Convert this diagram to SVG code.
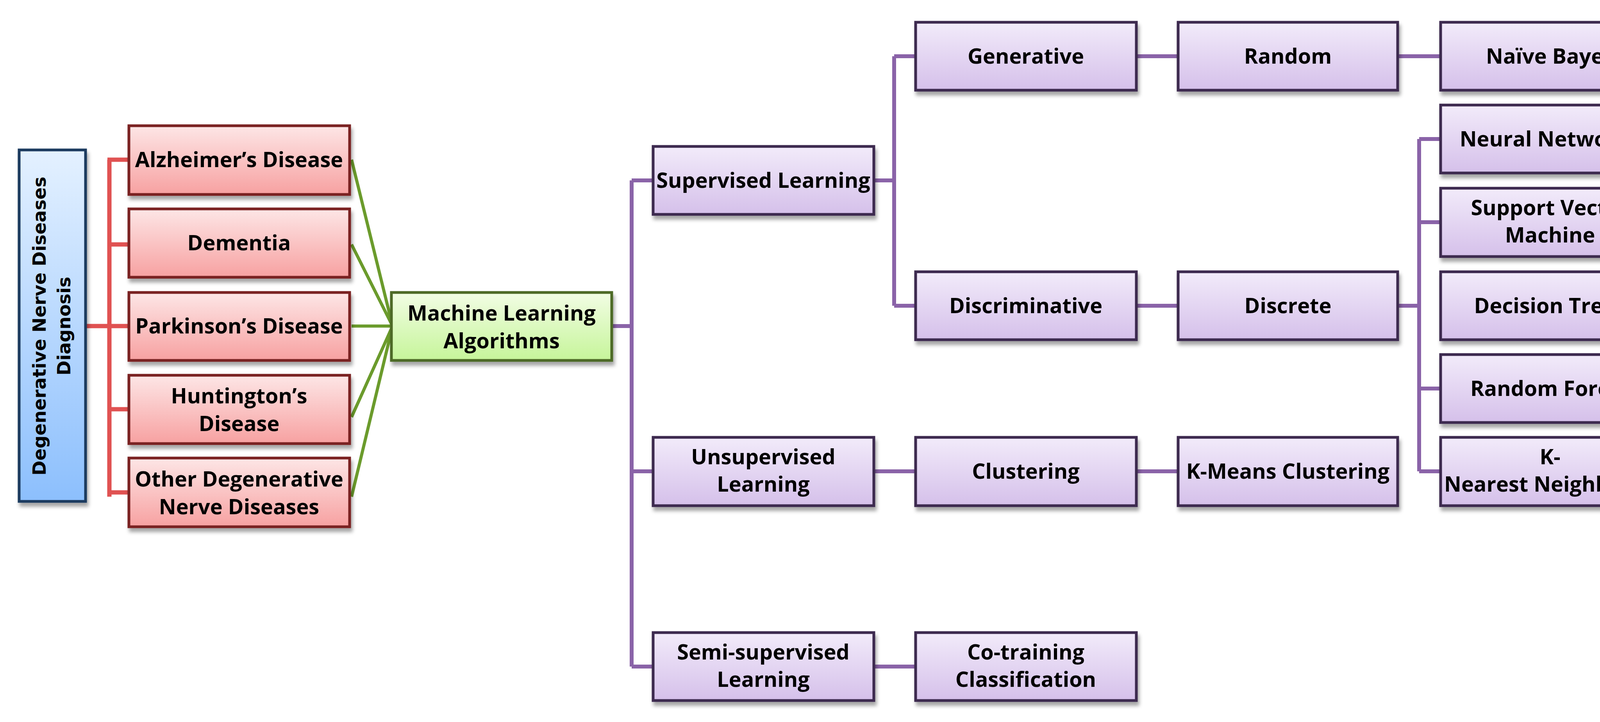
<svg xmlns="http://www.w3.org/2000/svg" width="4301" height="1849" viewBox="0 0 4301 1849">
<defs>
<linearGradient id="gr" x1="0" y1="0" x2="0" y2="1"><stop offset="0" stop-color="#fde6e6"/><stop offset="1" stop-color="#f7a1a1"/></linearGradient>
<linearGradient id="gg" x1="0" y1="0" x2="0" y2="1"><stop offset="0" stop-color="#f2fde4"/><stop offset="1" stop-color="#c6f59a"/></linearGradient>
<linearGradient id="gp" x1="0" y1="0" x2="0" y2="1"><stop offset="0" stop-color="#f2ebfa"/><stop offset="1" stop-color="#d5c0ea"/></linearGradient>
<linearGradient id="gb" x1="0" y1="0" x2="0" y2="1"><stop offset="0" stop-color="#e4f1ff"/><stop offset="1" stop-color="#8cbffd"/></linearGradient>
<filter id="sh" x="-10%" y="-10%" width="130%" height="140%"><feDropShadow dx="4" dy="10" stdDeviation="5" flood-color="#000" flood-opacity="0.35"/></filter>
</defs>
<style>
.r{fill:url(#gr);stroke:#7a2020;stroke-width:7;filter:url(#sh)}
.g{fill:url(#gg);stroke:#4d6a28;stroke-width:7;filter:url(#sh)}
.p{fill:url(#gp);stroke:#3d2b50;stroke-width:7;filter:url(#sh)}
.b{fill:url(#gb);stroke:#1d3a5e;stroke-width:7;filter:url(#sh)}
text{font-family:"Liberation Sans Narrow","Open Sans","Liberation Sans",sans-serif;font-weight:bold;font-size:54px;fill:#000;text-anchor:middle}
.v{font-family:"DejaVu Sans",sans-serif;font-size:46px}
.lr{stroke:#e05252;stroke-width:11;fill:none}
.lg{stroke:#6b9b2c;stroke-width:8;fill:none}
.lp{stroke:#8a63a8;stroke-width:10;fill:none}
</style>
<g id="connectors">
<path class="lr" d="M222 835H275M280 409V1272M275 409H330M275 626H330M275 835H330M275 1048H330M275 1261H330"/>
<path class="lg" d="M900 409L1005 835M900 626L1005 835M900 835H1005M900 1068L1005 835M900 1272L1005 835"/>
<path class="lp" d="M1566 835H1617M1617 462V1707M1617 462H1672M1617 1207H1672M1617 1707H1672M2237 462H2289M2289 144V783M2289 144H2344M2289 783H2344M2909 144H3016M3578 144H3688M2909 783H3016M3578 783H3633M3633 356V1207M3633 356H3688M3633 569H3688M3633 995H3688M3633 1207H3688M2237 1207H2344M2909 1207H3016M2237 1707H2344"/>
</g>
<g id="n-root"><rect class="b" x="49" y="384" width="170" height="900"/><text class="v" transform="translate(117,835) rotate(-90)">Degenerative Nerve Diseases</text><text class="v" transform="translate(180,835) rotate(-90)">Diagnosis</text></g>
<g id="n-alz"><rect class="r" x="330" y="322" width="565" height="176"/><text x="612" y="428">Alzheimer’s Disease</text></g>
<g id="n-dem"><rect class="r" x="330" y="535" width="565" height="175"/><text x="612" y="641">Dementia</text></g>
<g id="n-park"><rect class="r" x="330" y="749" width="565" height="174"/><text x="612" y="854">Parkinson’s Disease</text></g>
<g id="n-hunt"><rect class="r" x="330" y="961" width="565" height="175"/><text x="612" y="1033">Huntington’s</text><text x="612" y="1104">Disease</text></g>
<g id="n-other"><rect class="r" x="330" y="1173" width="565" height="176"/><text x="612" y="1246">Other Degenerative</text><text x="612" y="1317">Nerve Diseases</text></g>
<g id="n-ml"><rect class="g" x="1002" y="749" width="564" height="174"/><text x="1284" y="821">Machine Learning</text><text x="1284" y="892">Algorithms</text></g>
<g id="n-sup"><rect class="p" x="1672" y="375" width="565" height="174"/><text x="1954" y="481">Supervised Learning</text></g>
<g id="n-unsup"><rect class="p" x="1672" y="1120" width="565" height="175"/><text x="1954" y="1189">Unsupervised</text><text x="1954" y="1259">Learning</text></g>
<g id="n-semi"><rect class="p" x="1672" y="1620" width="565" height="174"/><text x="1954" y="1689">Semi-supervised</text><text x="1954" y="1759">Learning</text></g>
<g id="n-gen"><rect class="p" x="2344" y="57" width="565" height="174"/><text x="2626" y="163">Generative</text></g>
<g id="n-disc"><rect class="p" x="2344" y="696" width="565" height="174"/><text x="2626" y="802">Discriminative</text></g>
<g id="n-clus"><rect class="p" x="2344" y="1120" width="565" height="175"/><text x="2626" y="1226">Clustering</text></g>
<g id="n-cot"><rect class="p" x="2344" y="1620" width="565" height="174"/><text x="2626" y="1689">Co-training</text><text x="2626" y="1759">Classification</text></g>
<g id="n-rand"><rect class="p" x="3016" y="57" width="562" height="174"/><text x="3297" y="163">Random</text></g>
<g id="n-discrete"><rect class="p" x="3016" y="696" width="562" height="174"/><text x="3297" y="802">Discrete</text></g>
<g id="n-km"><rect class="p" x="3016" y="1120" width="562" height="175"/><text x="3297" y="1226">K-Means Clustering</text></g>
<g id="n-nb"><rect class="p" x="3688" y="57" width="561" height="174"/><text x="3968" y="163">Naïve Bayes</text></g>
<g id="n-nn"><rect class="p" x="3688" y="269" width="561" height="174"/><text x="3968" y="375">Neural Networks</text></g>
<g id="n-svm"><rect class="p" x="3688" y="482" width="561" height="175"/><text x="3968" y="551">Support Vector</text><text x="3968" y="621">Machine</text></g>
<g id="n-dt"><rect class="p" x="3688" y="696" width="561" height="174"/><text x="3968" y="802">Decision Trees</text></g>
<g id="n-rf"><rect class="p" x="3688" y="908" width="561" height="174"/><text x="3968" y="1014">Random Forest</text></g>
<g id="n-knn"><rect class="p" x="3688" y="1120" width="561" height="175"/><text x="3968" y="1189">K-</text><text x="3968" y="1259">Nearest Neighbours</text></g>
</svg>
